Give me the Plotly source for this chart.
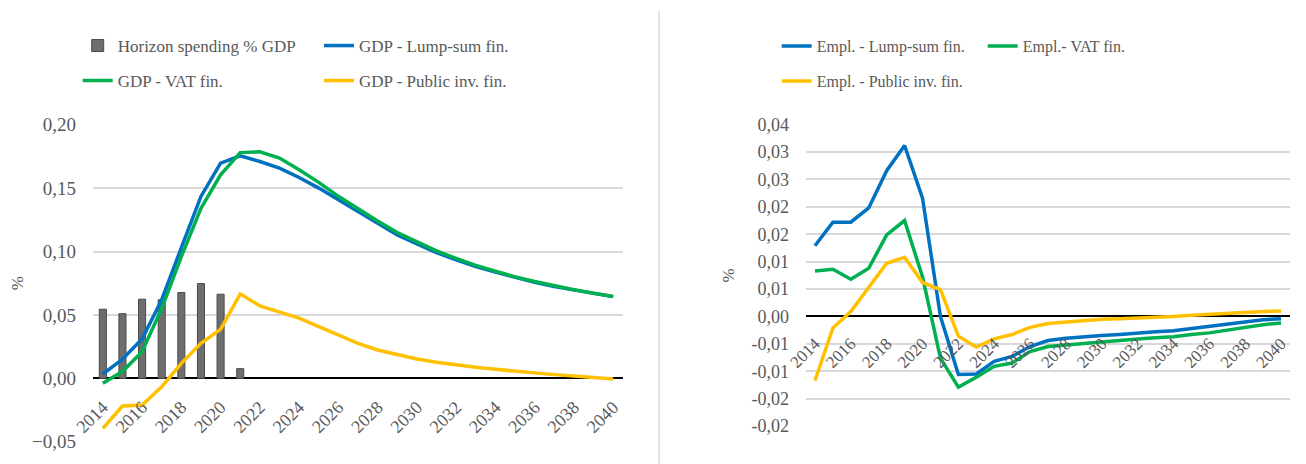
import plotly.graph_objects as go

# ---------------- data ----------------
years = [str(y) for y in range(2014, 2041)]
bar_years = years[:8]
horizon_spending = [0.0545, 0.051, 0.0624, 0.062, 0.0676, 0.0747, 0.0663, 0.0076]

gdp_lump = [0.0034, 0.015, 0.031, 0.062, 0.103, 0.1434, 0.1697, 0.1755, 0.171, 0.1658,
            0.1584, 0.150, 0.1408, 0.1315, 0.1218, 0.1131, 0.106, 0.0992, 0.0934, 0.0881,
            0.0837, 0.0794, 0.0758, 0.0723, 0.0695, 0.0668, 0.0644]
gdp_vat = [-0.004, 0.0053, 0.021, 0.055, 0.096, 0.134, 0.1605, 0.178, 0.1787, 0.1737,
           0.1645, 0.1545, 0.1435, 0.1335, 0.124, 0.115, 0.1075, 0.1005, 0.0945, 0.089,
           0.0845, 0.080, 0.0763, 0.0728, 0.0698, 0.0671, 0.0645]
gdp_pub = [-0.0395, -0.0219, -0.021, -0.0066, 0.0118, 0.0276, 0.0387, 0.0666, 0.0571, 0.0526,
           0.0474, 0.0407, 0.0342, 0.0276, 0.0223, 0.0184, 0.0152, 0.0126, 0.0105, 0.0087,
           0.0071, 0.0055, 0.0042, 0.0029, 0.0018, 0.0008, -0.0005]

empl_lump = [0.0129, 0.0172, 0.0172, 0.0198, 0.0266, 0.0312, 0.0216, 0.0, -0.0106, -0.0105,
             -0.0082, -0.0073, -0.0055, -0.0044, -0.0040, -0.0037, -0.0035, -0.0033, -0.003, -0.0028,
             -0.0026, -0.0022, -0.0019, -0.0015, -0.001, -0.0006, -0.0004]
empl_vat = [0.0083, 0.0086, 0.0068, 0.0088, 0.0149, 0.0175, 0.0072, -0.0076, -0.0129, -0.0111,
            -0.0091, -0.0085, -0.0064, -0.0055, -0.0052, -0.0049, -0.0046, -0.0044, -0.0041, -0.0039,
            -0.0037, -0.0033, -0.003, -0.0025, -0.002, -0.0015, -0.0012]
empl_pub = [-0.0117, -0.0021, 0.0009, 0.0052, 0.0097, 0.0108, 0.0062, 0.0049, -0.0036, -0.0056,
            -0.0041, -0.0033, -0.002, -0.0013, -0.001, -0.0007, -0.0005, -0.0004, -0.0003, -0.0002,
            0.0, 0.0002, 0.0004, 0.0005, 0.0007, 0.0009, 0.001]

left_yticks = [-0.05, 0.0, 0.05, 0.10, 0.15, 0.20]
right_yticks = [-0.020, -0.015, -0.010, -0.005, 0.0, 0.005, 0.010, 0.015, 0.020, 0.025, 0.030, 0.035]
right_yticklabels = ["-0,02", "-0,02", "-0,01", "-0,01", "0,00", "0,01", "0,01", "0,02", "0,02",
                     "0,03", "0,03", "0,04"]
xtick_years = years[::2]

# ---------------- style ----------------
OFF = 8                      # default page margin of the html body
W, H = 1306 - OFF, 464 - OFF
FONT = "Liberation Serif"
GREY = "#595959"
BLUE, GREEN, YELLOW = "#0070C0", "#00B050", "#FFC000"
LW = 3.5

def px_x(a, b):
    return [(a - OFF) / W, (b - OFF) / W]

def px_y(top, bottom):
    return [1 - (bottom - OFF) / H, 1 - (top - OFF) / H]

L_dom_x, L_dom_y = px_x(93, 623), px_y(124.7, 441.7)
R_dom_x, R_dom_y = px_x(806, 1290), px_y(124.7, 426)
L_range = [-0.05, 0.20]
R_range = [-0.020, 0.035]
cat_range = [-0.5, len(years) - 0.5]

def zero_pos(dom, rng):
    frac = (0 - rng[0]) / (rng[1] - rng[0])
    return dom[0] + frac * (dom[1] - dom[0])

fig = go.Figure()

fig.add_trace(go.Bar(x=bar_years, y=horizon_spending, name="Horizon spending % GDP",
                     marker=dict(color="#6e6e6e", line=dict(color="#4a4a4a", width=1)),
                     width=0.36, xaxis="x", yaxis="y", legend="legend"))
fig.add_trace(go.Scatter(x=years, y=gdp_lump, name="GDP - Lump-sum fin.", mode="lines",
                         line=dict(color=BLUE, width=LW), xaxis="x", yaxis="y", legend="legend2"))
fig.add_trace(go.Scatter(x=years, y=gdp_vat, name="GDP - VAT fin.", mode="lines",
                         line=dict(color=GREEN, width=LW), xaxis="x", yaxis="y", legend="legend3"))
fig.add_trace(go.Scatter(x=years, y=gdp_pub, name="GDP - Public inv. fin.", mode="lines",
                         line=dict(color=YELLOW, width=LW), xaxis="x", yaxis="y", legend="legend4"))

fig.add_trace(go.Scatter(x=years, y=empl_lump, name="Empl. - Lump-sum fin.", mode="lines",
                         line=dict(color=BLUE, width=LW), xaxis="x2", yaxis="y2", legend="legend5"))
fig.add_trace(go.Scatter(x=years, y=empl_vat, name="Empl.- VAT fin.", mode="lines",
                         line=dict(color=GREEN, width=LW), xaxis="x2", yaxis="y2", legend="legend6"))
fig.add_trace(go.Scatter(x=years, y=empl_pub, name="Empl. - Public inv. fin.", mode="lines",
                         line=dict(color=YELLOW, width=LW), xaxis="x2", yaxis="y2", legend="legend7"))

def leg(text_x, ypx, size):
    # plotly puts legend text 40 px to the right of the legend's left edge
    return dict(x=(text_x - 40 - OFF) / W, y=1 - (ypx - OFF) / H, xanchor="left",
                yanchor="middle", orientation="h", bgcolor="rgba(0,0,0,0)", borderwidth=0,
                font=dict(family=FONT, size=size, color=GREY))

xcommon = dict(type="category", tickangle=-45, showgrid=False, showline=False,
               zeroline=False, ticks="", automargin=False, range=cat_range,
               tickmode="array", tickvals=xtick_years, anchor="free")
ycommon = dict(showgrid=True, gridcolor="#d9d9d9", gridwidth=1.5, zeroline=True,
               zerolinecolor="#000000", zerolinewidth=2, showline=False, ticks="",
               automargin=False)

fig.update_layout(
    width=W, height=H, margin=dict(l=0, r=0, t=0, b=0),
    paper_bgcolor="white", plot_bgcolor="white",
    font=dict(family=FONT, color=GREY),
    separators=", ", showlegend=True,
    xaxis=dict(xcommon, domain=L_dom_x, position=zero_pos(L_dom_y, L_range),
               tickfont=dict(family=FONT, size=18, color=GREY), ticklabelstandoff=14),
    yaxis=dict(ycommon, domain=L_dom_y, range=L_range, tickmode="array",
               tickvals=left_yticks, tickformat=".2f", anchor="x",
               tickfont=dict(family=FONT, size=19, color=GREY), ticklabelstandoff=16,
               title=dict(text="%", standoff=12, font=dict(family=FONT, size=17, color=GREY))),
    xaxis2=dict(xcommon, domain=R_dom_x, position=zero_pos(R_dom_y, R_range),
                tickfont=dict(family=FONT, size=17, color=GREY), ticklabelstandoff=13),
    yaxis2=dict(ycommon, domain=R_dom_y, range=R_range, tickmode="array",
                tickvals=right_yticks, ticktext=right_yticklabels, anchor="x2",
                tickfont=dict(family=FONT, size=18, color=GREY), ticklabelstandoff=16,
                title=dict(text="%", standoff=12, font=dict(family=FONT, size=17, color=GREY))),
    legend=leg(117.7, 46, 17),
    legend2=leg(359, 46, 17),
    legend3=leg(117.7, 81, 17),
    legend4=leg(359, 81, 17),
    legend5=leg(816.7, 46, 16),
    legend6=leg(1022.7, 46, 16),
    legend7=leg(816.7, 81, 16),
    shapes=[dict(type="line", xref="paper", yref="paper",
                 x0=(659 - OFF) / W, x1=(659 - OFF) / W,
                 y0=0, y1=1 - (11 - OFF) / H, line=dict(color="#e3e3e3", width=2))],
)

fig.write_html("out.html")
